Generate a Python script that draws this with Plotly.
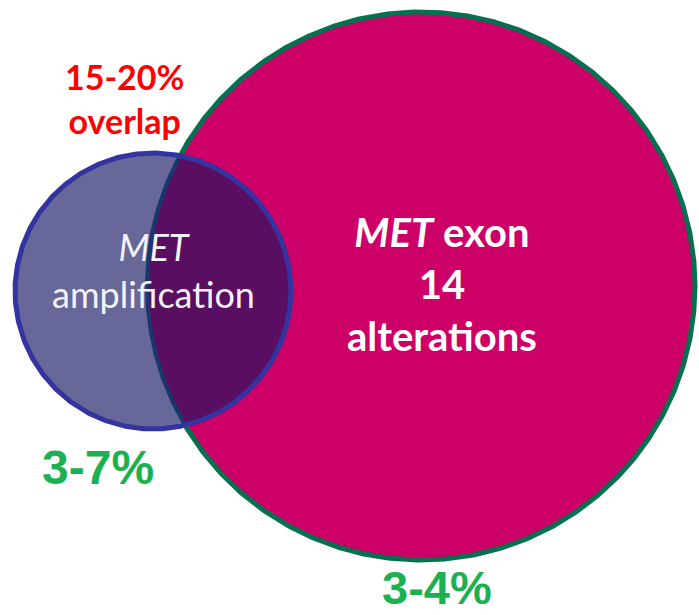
import numpy as np
import plotly.graph_objects as go

# Two overlapping sets: MET amplification (small) and MET exon 14 alterations (large)
set_names = ["MET amplification", "MET exon 14 alterations"]
center_x = [153, 421]
center_y = [291, 286]
radius = [138, 274]
prevalence = ["3-7%", "3-4%"]
overlap_label = "15-20%"

MAGENTA = "#CC0066"
GREEN_EDGE = "#05704F"
AMP_FILL = "#67679A"
AMP_EDGE = "#3434A0"
LENS_FILL = "#5A0E62"
HIDDEN_EDGE = "#16386A"
LABEL_GREEN = "#1DB050"

theta = np.linspace(0, 2 * np.pi, 1441)


def ring(i):
    return (center_x[i] + radius[i] * np.cos(theta),
            center_y[i] + radius[i] * np.sin(theta))


sx, sy = ring(0)
bx, by = ring(1)

inside_big = np.hypot(sx - center_x[1], sy - center_y[1]) <= radius[1]
inside_small = np.hypot(bx - center_x[0], by - center_y[0]) <= radius[0]

# Lens (intersection) polygon, ordered around its centroid
lx = np.concatenate([sx[inside_big], bx[inside_small]])
ly = np.concatenate([sy[inside_big], by[inside_small]])
order = np.argsort(np.arctan2(ly - ly.mean(), lx - lx.mean()))
lx, ly = lx[order], ly[order]

fig = go.Figure()
fig.add_trace(go.Scatter(x=bx, y=by, mode="lines", fill="toself",
                         fillcolor=MAGENTA, line=dict(color=GREEN_EDGE, width=5),
                         hoverinfo="skip", name=set_names[1]))
fig.add_trace(go.Scatter(x=sx, y=sy, mode="lines", fill="toself",
                         fillcolor=AMP_FILL, line=dict(width=0),
                         hoverinfo="skip", name=set_names[0]))
fig.add_trace(go.Scatter(x=np.append(lx, lx[0]), y=np.append(ly, ly[0]), mode="lines",
                         fill="toself", fillcolor=LENS_FILL, line=dict(width=0),
                         hoverinfo="skip", name="overlap"))
fig.add_trace(go.Scatter(x=bx[inside_small], y=by[inside_small], mode="lines",
                         line=dict(color=HIDDEN_EDGE, width=4), hoverinfo="skip"))
fig.add_trace(go.Scatter(x=sx, y=sy, mode="lines",
                         line=dict(color=AMP_EDGE, width=5), hoverinfo="skip"))

annotations = [
    dict(x=124, y=98, text=f"<b>{overlap_label}<br>overlap</b>",
         font=dict(family="Lato", size=34, color="#FF0000")),
    dict(x=center_x[0], y=270, text="<i>MET</i><br>amplification",
         font=dict(family="Lato", size=36, color="#F2F2F8")),
    dict(x=442, y=284, text="<b><i>MET</i> exon<br>14<br>alterations</b>",
         font=dict(family="Lato", size=40, color="#FFFFFF")),
    dict(x=98, y=467, text=f"<b>{prevalence[0]}</b>",
         font=dict(family="Liberation Sans", size=48, color=LABEL_GREEN)),
    dict(x=437, y=587, text=f"<b>{prevalence[1]}</b>",
         font=dict(family="Liberation Sans", size=47, color=LABEL_GREEN)),
]
for a in annotations:
    a.update(xref="x", yref="y", showarrow=False, xanchor="center", yanchor="middle")

fig.update_layout(
    width=699, height=615,
    margin=dict(l=0, r=0, t=0, b=0),
    paper_bgcolor="white", plot_bgcolor="white",
    showlegend=False, hovermode=False,
    annotations=annotations,
    xaxis=dict(range=[0, 699], visible=False, fixedrange=True),
    yaxis=dict(range=[615, 0], visible=False, fixedrange=True),
)

fig.write_html("out.html")
